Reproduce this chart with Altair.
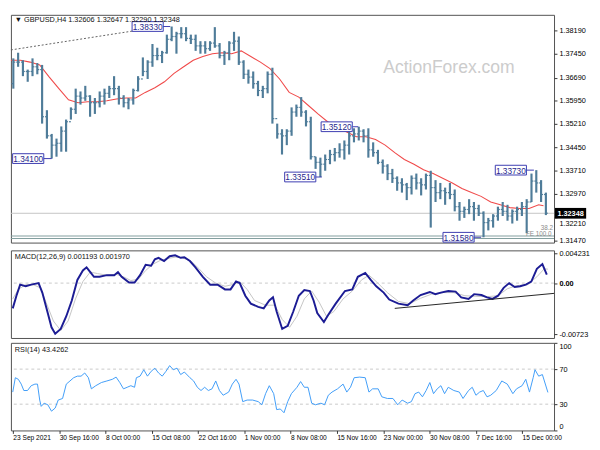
import altair as alt
import pandas as pd

# ---------------- data ----------------
# price bars: one bar per column of the reference, oldest first
HIGH = [1.3731, 1.3749, 1.3725, 1.3695, 1.3731, 1.3716, 1.3710, 1.3565, 1.3489, 1.3474,
        1.3513, 1.3535, 1.3574, 1.3634, 1.3625, 1.3643, 1.3613, 1.3604, 1.3625, 1.3634,
        1.3643, 1.3674, 1.3643, 1.3613, 1.3604, 1.3634, 1.3674, 1.3734, 1.3725, 1.3777,
        1.3765, 1.3755, 1.3807, 1.3833, 1.3816, 1.3831, 1.3831, 1.3807, 1.3807, 1.3786,
        1.3786, 1.3786, 1.3831, 1.3780, 1.3755, 1.3786, 1.3816, 1.3801, 1.3725, 1.3695,
        1.3689, 1.3659, 1.3643, 1.3689, 1.3701, 1.3522, 1.3504, 1.3504, 1.3574, 1.3583,
        1.3607, 1.3565, 1.3544, 1.3416, 1.3413, 1.3423, 1.3438, 1.3444, 1.3459, 1.3468,
        1.3498, 1.3507, 1.3512, 1.3504, 1.3507, 1.3462, 1.3438, 1.3407, 1.3392, 1.3377,
        1.3353, 1.3347, 1.3332, 1.3356, 1.3362, 1.3347, 1.3362, 1.3371, 1.3341, 1.3332,
        1.3317, 1.3332, 1.3311, 1.3271, 1.3256, 1.3280, 1.3271, 1.3262, 1.3241, 1.3220,
        1.3232, 1.3256, 1.3271, 1.3262, 1.3247, 1.3256, 1.3271, 1.3280, 1.3362, 1.3373,
        1.3341, 1.3301]
LOW = [1.3634, 1.3704, 1.3674, 1.3656, 1.3674, 1.3680, 1.3522, 1.3474, 1.3410, 1.3416,
       1.3432, 1.3432, 1.3535, 1.3553, 1.3583, 1.3595, 1.3544, 1.3553, 1.3574, 1.3583,
       1.3604, 1.3613, 1.3583, 1.3574, 1.3568, 1.3583, 1.3625, 1.3674, 1.3665, 1.3704,
       1.3725, 1.3716, 1.3746, 1.3786, 1.3746, 1.3795, 1.3786, 1.3777, 1.3755, 1.3746,
       1.3746, 1.3755, 1.3765, 1.3731, 1.3710, 1.3725, 1.3755, 1.3710, 1.3665, 1.3650,
       1.3634, 1.3610, 1.3604, 1.3619, 1.3522, 1.3474, 1.3423, 1.3453, 1.3483, 1.3544,
       1.3544, 1.3513, 1.3407, 1.3377, 1.3351, 1.3371, 1.3392, 1.3401, 1.3413, 1.3407,
       1.3423, 1.3462, 1.3468, 1.3462, 1.3413, 1.3416, 1.3392, 1.3362, 1.3341, 1.3332,
       1.3307, 1.3301, 1.3277, 1.3295, 1.3311, 1.3292, 1.3311, 1.3189, 1.3271, 1.3280,
       1.3262, 1.3280, 1.3241, 1.3211, 1.3220, 1.3232, 1.3211, 1.3226, 1.3158, 1.3180,
       1.3189, 1.3211, 1.3226, 1.3211, 1.3202, 1.3211, 1.3226, 1.3171, 1.3271, 1.3301,
       1.3271, 1.3229]
CLOSE = [1.3719, 1.3719, 1.3689, 1.3689, 1.3704, 1.3695, 1.3544, 1.3483, 1.3453, 1.3459,
         1.3498, 1.3528, 1.3568, 1.3610, 1.3604, 1.3610, 1.3589, 1.3589, 1.3610, 1.3619,
         1.3634, 1.3634, 1.3604, 1.3589, 1.3598, 1.3628, 1.3665, 1.3689, 1.3719, 1.3740,
         1.3740, 1.3749, 1.3792, 1.3801, 1.3810, 1.3810, 1.3795, 1.3792, 1.3771, 1.3771,
         1.3762, 1.3780, 1.3771, 1.3740, 1.3749, 1.3780, 1.3786, 1.3719, 1.3680, 1.3671,
         1.3650, 1.3628, 1.3634, 1.3680, 1.3538, 1.3489, 1.3483, 1.3498, 1.3559, 1.3574,
         1.3559, 1.3528, 1.3416, 1.3398, 1.3392, 1.3407, 1.3423, 1.3429, 1.3438, 1.3453,
         1.3483, 1.3489, 1.3498, 1.3483, 1.3438, 1.3429, 1.3398, 1.3386, 1.3362, 1.3347,
         1.3332, 1.3326, 1.3317, 1.3347, 1.3332, 1.3326, 1.3356, 1.3317, 1.3301, 1.3307,
         1.3301, 1.3295, 1.3256, 1.3241, 1.3247, 1.3256, 1.3250, 1.3235, 1.3205, 1.3211,
         1.3226, 1.3247, 1.3241, 1.3226, 1.3241, 1.3247, 1.3256, 1.3271, 1.3338, 1.3332,
         1.3295, 1.3235]
FIRST_OPEN = 1.3650

# red moving average (bar position, price)
MA_POINTS = [(0, 1.3725), (2, 1.3725), (4, 1.3719), (6, 1.3710), (8, 1.3671), (10, 1.3634),
             (12, 1.3598), (14, 1.3589), (16, 1.3592), (18, 1.3592), (20, 1.3595), (22, 1.3601),
             (24, 1.3604), (26, 1.3604), (28, 1.3622), (30, 1.3637), (32, 1.3656), (34, 1.3683),
             (36, 1.3704), (38, 1.3725), (40, 1.3737), (42, 1.3746), (44, 1.3749), (46, 1.3746),
             (48, 1.3755), (50, 1.3737), (52, 1.3719), (54, 1.3698), (56, 1.3665), (58, 1.3622),
             (60, 1.3607), (62, 1.3580), (64, 1.3553), (66, 1.3528), (68, 1.3510), (70, 1.3495),
             (72, 1.3480), (74, 1.3480), (76, 1.3471), (78, 1.3453), (80, 1.3429), (82, 1.3407),
             (84, 1.3392), (86, 1.3374), (88, 1.3362), (90, 1.3347), (92, 1.3332), (94, 1.3314),
             (96, 1.3301), (98, 1.3289), (100, 1.3271), (102, 1.3262), (104, 1.3253), (106, 1.3250),
             (108, 1.3250), (110, 1.3262), (111, 1.3259)]

# dotted trend line at the top left
TREND_POINTS = [(0, 1.3758), (25.6, 1.3819)]

# price labels: (centre position, price, text, connector start, connector end)
PRICE_LABELS = [(3.6, 1.3410, "1.34100", 6.8, 8.5),
                (28.5, 1.3833, "1.38330", 31.6, 33.2),
                (67.9, 1.3512, "1.35120", 71.2, 72.4),
                (60.3, 1.3351, "1.33510", 63.4, 64.8),
                (104.2, 1.3373, "1.33730", 107.4, 109.0),
                (93.3, 1.3158, "1.31580", 96.4, 98.0)]

FIB_LEVELS = [1.3162, 1.3154]
FIB_TEXT = [(112.7, 1.3167, "FE 100.0"), (113.0, 1.3188, "38.2")]
LAST_PRICE = 1.32348
PRICE_TICKS = [1.38190, 1.37450, 1.36690, 1.35950, 1.35210, 1.34450,
               1.33710, 1.32970, 1.32210, 1.31470]
PRICE_DOMAIN = [1.31409, 1.38704]

# MACD main line and signal line (bar position, value)
MACD_POINTS = [(0.38, -0.00357), (1.15, -0.00178), (1.92, -0.00022), (3.08, -0.00045), (4.23, -0.00022),
               (5.77, 0.0), (6.54, -0.00134), (7.69, -0.00424), (8.46, -0.00624), (9.23, -0.00714),
               (10.38, -0.00647), (11.54, -0.00468), (12.69, -0.00245), (13.85, 0.00045), (15.0, 0.00178),
               (15.77, 0.00223), (16.54, 0.00156), (17.31, 0.00089), (18.46, 0.00089), (20.0, 0.00112),
               (21.54, 0.00112), (22.31, 0.00156), (23.08, 0.00089), (24.62, 0.00009), (25.77, 0.00009),
               (26.92, 0.00112), (28.08, 0.00259), (29.23, 0.00245), (30.0, 0.00335), (30.77, 0.00357),
               (31.92, 0.00312), (33.08, 0.00379), (34.23, 0.00392), (35.38, 0.00357), (36.15, 0.00366),
               (37.31, 0.00312), (38.46, 0.00223), (40.0, 0.00089), (41.54, -0.00022), (43.08, -0.00022),
               (44.62, -0.00089), (45.77, -0.00089), (46.92, 0.00022), (47.69, 0.0), (48.85, -0.00178),
               (50.0, -0.0029), (51.54, -0.00335), (52.69, -0.00357), (53.85, -0.00245), (54.62, -0.00201),
               (55.38, -0.00401), (56.54, -0.00647), (57.69, -0.00602), (58.85, -0.00401), (60.0, -0.00178),
               (61.15, -0.00098), (62.31, -0.00112), (63.08, -0.00245), (63.85, -0.00424), (65.23, -0.00549),
               (66.15, -0.00446), (67.69, -0.0029), (69.62, -0.00112), (71.15, -0.00089), (72.31, 0.00089),
               (73.85, 0.00143), (75.0, 0.00045), (76.15, -0.00045), (77.69, -0.00134), (78.85, -0.00232),
               (80.77, -0.0029), (82.69, -0.00312), (83.85, -0.00245), (85.38, -0.00169), (87.31, -0.00125),
               (88.46, -0.00156), (89.62, -0.00134), (91.15, -0.00112), (92.69, -0.0012), (93.85, -0.00201),
               (95.38, -0.00223), (96.54, -0.00156), (98.08, -0.00169), (99.23, -0.00201), (100.38, -0.00223),
               (101.54, -0.00178), (102.69, -0.00067), (103.85, 0.0), (105.0, -0.00054), (106.15, -0.00045),
               (107.31, -0.00022), (108.46, 0.00022), (109.62, 0.00201), (110.77, 0.00268), (111.69, 0.001193)]
SIGNAL_POINTS = [(0.38, -0.00223), (1.54, -0.00089), (3.08, -0.00022), (4.62, -0.00022), (6.15, -0.00067),
                 (7.31, -0.00268), (8.85, -0.00535), (10.38, -0.00669), (11.92, -0.00535), (13.46, -0.00223),
                 (15.0, 0.00022), (16.54, 0.00156), (18.08, 0.00134), (20.0, 0.00112), (21.92, 0.00125),
                 (23.46, 0.00089), (25.0, 0.00036), (26.54, 0.00054), (28.08, 0.00178), (29.62, 0.00268),
                 (31.15, 0.00321), (32.69, 0.00348), (34.23, 0.00366), (35.77, 0.00357), (37.69, 0.00303),
                 (39.23, 0.00201), (40.77, 0.00089), (42.69, 0.0), (44.62, -0.00045), (46.15, -0.00022),
                 (47.69, 0.00022), (49.23, -0.00089), (50.77, -0.00245), (53.08, -0.00312), (55.0, -0.00312),
                 (56.54, -0.00513), (58.08, -0.00624), (59.62, -0.00468), (61.15, -0.00223), (62.69, -0.00112),
                 (64.23, -0.00268), (65.77, -0.00468), (67.31, -0.00401), (69.23, -0.00223), (71.15, -0.00112),
                 (73.08, 0.00045), (74.62, 0.00112), (76.15, 0.00022), (78.46, -0.00134), (80.77, -0.00259),
                 (83.08, -0.0029), (85.38, -0.00214), (87.69, -0.00156), (90.0, -0.00134), (92.31, -0.00134),
                 (94.62, -0.00178), (96.92, -0.00187), (99.23, -0.00192), (101.54, -0.00178), (103.46, -0.0008),
                 (105.38, -0.00036), (107.69, -0.00022), (109.62, 0.00089), (111.15, 0.00201), (111.92, 0.00197)]
MACD_TREND = [(80.0, -0.00357), (113.2, -0.00145)]
MACD_TICKS = [0.004231, 0.0, -0.00723]
MACD_TICK_TEXT = ["0.004231", "0.00", "-0.00723"]
MACD_DOMAIN = [-0.00775, 0.00462]

# RSI(14) (bar position, value)
RSI_POINTS = [(0.38, 43.8), (0.92, 60.2), (1.54, 58.4), (2.15, 52.9), (2.69, 45.6), (3.46, 45.6),
              (4.23, 51.1), (5.0, 52.9), (5.54, 52.9), (6.0, 34.7), (6.31, 27.5), (6.92, 31.1),
              (7.69, 29.3), (8.46, 22.0), (9.23, 25.6), (9.85, 34.7), (10.77, 36.5), (11.54, 52.9),
              (12.31, 56.5), (13.08, 60.2), (13.85, 62.0), (14.62, 62.0), (15.38, 65.6), (16.15, 60.2),
              (16.77, 47.5), (17.69, 51.1), (18.85, 54.7), (20.0, 56.5), (21.15, 58.4), (21.92, 60.9),
              (22.69, 54.7), (23.46, 47.5), (24.23, 49.3), (25.0, 51.1), (25.77, 49.3), (26.15, 60.2),
              (26.92, 62.0), (27.69, 69.3), (28.46, 62.0), (29.23, 67.5), (30.0, 71.1), (30.77, 65.6),
              (31.54, 62.0), (32.31, 67.5), (33.08, 74.0), (33.85, 69.3), (34.62, 71.1), (35.38, 63.8),
              (36.15, 66.7), (37.31, 60.2), (38.08, 56.5), (38.85, 49.3), (39.62, 45.6), (40.38, 49.3),
              (41.15, 45.6), (41.92, 47.5), (42.69, 56.5), (43.46, 45.6), (44.23, 40.2), (45.38, 43.8),
              (46.15, 52.9), (46.92, 58.4), (47.54, 52.9), (48.31, 32.9), (49.23, 34.7), (50.38, 34.7),
              (51.54, 32.9), (52.31, 29.3), (53.08, 42.0), (53.85, 51.1), (54.77, 42.0), (55.38, 23.8),
              (56.15, 24.5), (56.92, 20.2), (57.69, 32.9), (58.46, 42.0), (59.62, 49.3), (60.38, 55.8),
              (61.15, 49.3), (61.92, 49.3), (62.69, 31.1), (63.46, 29.3), (64.62, 31.1), (65.38, 29.3),
              (66.15, 40.2), (66.92, 43.8), (68.08, 47.5), (69.23, 52.9), (70.0, 43.8), (70.77, 49.3),
              (71.54, 60.2), (72.69, 60.9), (73.85, 60.2), (74.62, 43.8), (75.38, 47.5), (76.54, 47.5),
              (77.31, 38.4), (78.46, 36.5), (79.62, 36.5), (80.62, 29.3), (81.54, 34.7), (82.69, 31.1),
              (83.46, 32.9), (84.23, 42.0), (85.0, 43.8), (85.77, 38.4), (86.54, 45.6), (87.31, 54.7),
              (88.08, 42.0), (88.85, 47.5), (89.62, 51.1), (90.38, 42.0), (91.15, 49.3), (92.31, 45.6),
              (93.46, 43.8), (94.23, 36.5), (95.38, 45.6), (96.15, 49.3), (96.92, 40.2), (97.69, 43.8),
              (98.46, 45.6), (99.23, 38.4), (100.0, 40.2), (101.15, 45.6), (102.31, 56.5), (103.46, 52.9),
              (104.62, 42.0), (105.38, 47.5), (106.54, 51.1), (107.31, 58.4), (108.08, 43.8), (108.85, 60.2),
              (109.23, 69.3), (110.0, 62.0), (110.77, 63.8), (111.92, 43.4262)]
RSI_LEVELS = [70, 30]
RSI_TICKS = [0, 30, 70, 100]

# time axis
TICK_POS = [0.4, 10.05, 19.7, 29.35, 39.0, 48.65, 58.3, 67.95, 77.6, 87.25, 96.9, 106.55]
TICK_LABELS = ["23 Sep 2021", "30 Sep 16:00", "8 Oct 00:00", "15 Oct 08:00", "22 Oct 16:00",
               "1 Nov 00:00", "8 Nov 08:00", "15 Nov 16:00", "23 Nov 00:00", "30 Nov 08:00",
               "7 Dec 16:00", "15 Dec 00:00"]
X_DOMAIN = [0, 113.2]

HEADER = "\u25bc GBPUSD,H4  1.32606 1.32647 1.32290 1.32348"
MACD_TITLE = "MACD(12,26,9) 0.001193 0.001970"
RSI_TITLE = "RSI(14) 43.4262"

# ---------------- styling ----------------
FONT = "Liberation Sans"
BAR = "#4f7c99"
MA_COL = "#f04a4a"
BOX_COL = "#3a3ab0"
W = 558
H_PRICE, H_MACD, H_RSI = 234, 90, 90
LFS = 7.5  # axis label font size

xs = alt.Scale(domain=X_DOMAIN, nice=False, zero=False)

# ---------------- price panel ----------------
bars = pd.DataFrame({"t": [i + 0.5 for i in range(len(CLOSE))],
                     "high": HIGH, "low": LOW, "close": CLOSE})
bars["open"] = [FIRST_OPEN] + CLOSE[:-1]
bars["t_l"] = bars["t"] - 0.4
bars["t_r"] = bars["t"] + 0.4

ys = alt.Scale(domain=PRICE_DOMAIN, nice=False, zero=False)
# the label just under the price tag is pushed below the tag (it peeks out in the reference)
yax = alt.Axis(orient="right", values=PRICE_TICKS, format=".5f", title=None, labelFontSize=LFS,
               tickSize=3, labelPadding=2, domain=False, grid=False, labelOverlap=False,
               labelBound=False, labelFlush=False,
               labelOffset={"expr": "abs(datum.value - %r) < 0.00001 ? 6 : 0" % PRICE_TICKS[8]})


def Yp(field):
    return alt.Y(field, scale=ys, axis=yax)


fib = alt.Chart(pd.DataFrame({"p": FIB_LEVELS})).mark_rule(color="#7f9c9c", strokeWidth=1).encode(
    y=Yp("p:Q"))
lastline = alt.Chart(pd.DataFrame({"p": [LAST_PRICE]})).mark_rule(color="#c4c4c4", strokeWidth=1).encode(
    y=Yp("p:Q"))
trend = alt.Chart(pd.DataFrame(TREND_POINTS, columns=["t", "p"])).mark_line(
    color="#606060", strokeDash=[2, 2], strokeWidth=1).encode(
    x=alt.X("t:Q", scale=xs, axis=None), y=Yp("p:Q"))
ma = alt.Chart(pd.DataFrame(MA_POINTS, columns=["t", "p"])).mark_line(
    color=MA_COL, strokeWidth=1.1).encode(
    x=alt.X("t:Q", scale=xs, axis=None), y=Yp("p:Q"))
hl = alt.Chart(bars).mark_rule(color=BAR, strokeWidth=2.2).encode(
    x=alt.X("t:Q", scale=xs, axis=None), y=Yp("low:Q"), y2="high:Q")
op = alt.Chart(bars).mark_rule(color=BAR, strokeWidth=1.2).encode(
    x=alt.X("t_l:Q", scale=xs, axis=None), x2="t:Q", y=Yp("open:Q"))
cl = alt.Chart(bars).mark_rule(color=BAR, strokeWidth=1.2).encode(
    x=alt.X("t:Q", scale=xs, axis=None), x2="t_r:Q", y=Yp("close:Q"))

lab = pd.DataFrame(PRICE_LABELS, columns=["t", "p", "txt", "c0", "c1"])
conn = alt.Chart(lab).mark_rule(color=BOX_COL, strokeWidth=1).encode(
    x=alt.X("c0:Q", scale=xs, axis=None), x2="c1:Q", y=Yp("p:Q"))
boxes = alt.Chart(lab).mark_point(shape="M-16,-5H16V5H-16Z", size=4, filled=True, fill="white",
                                  fillOpacity=1, opacity=1, stroke=BOX_COL, strokeWidth=1).encode(
    x=alt.X("t:Q", scale=xs, axis=None), y=Yp("p:Q"))
boxtxt = alt.Chart(lab).mark_text(font=FONT, fontSize=8.5, color="#26268c", baseline="middle",
                                  align="center", dy=0.5).encode(
    x=alt.X("t:Q", scale=xs, axis=None), y=Yp("p:Q"), text="txt:N")

fe = alt.Chart(pd.DataFrame(FIB_TEXT, columns=["t", "p", "txt"])).mark_text(
    font=FONT, fontSize=6.5, color="#8a8a8a", align="right", baseline="middle").encode(
    x=alt.X("t:Q", scale=xs, axis=None), y=Yp("p:Q"), text="txt:N")

tagdf = pd.DataFrame({"p": [LAST_PRICE], "txt": ["%.5f" % LAST_PRICE]})
tagbox = alt.Chart(tagdf).mark_point(shape="M-16,-5.5H16V5.5H-16Z", size=4, filled=True, fill="black",
                                     fillOpacity=1, opacity=1, strokeWidth=0).encode(
    x=alt.value(W + 17), y=Yp("p:Q"))
tagtxt = alt.Chart(tagdf).mark_text(font=FONT, fontSize=7.5, color="white", fontWeight="bold",
                                    align="center", baseline="middle", dy=0.5).encode(
    x=alt.value(W + 17), y=Yp("p:Q"), text="txt:N")

header = alt.Chart(pd.DataFrame({"txt": [HEADER]})).mark_text(
    font=FONT, fontSize=7.5, color="#111111", align="left", baseline="middle").encode(
    x=alt.value(4), y=alt.value(5), text="txt:N")
water = alt.Chart(pd.DataFrame({"txt": ["ActionForex.com"]})).mark_text(
    font=FONT, fontSize=18, color="#cccccc", align="center", baseline="middle").encode(
    x=alt.value(450), y=alt.value(55), text="txt:N")

price = alt.layer(fib, lastline, water, trend, ma, hl, op, cl, conn, boxes, boxtxt, fe,
                  tagbox, tagtxt, header).properties(width=W, height=H_PRICE)

# ---------------- MACD panel ----------------
ms = alt.Scale(domain=MACD_DOMAIN, nice=False, zero=False)
macd_label_expr = " : ".join(
    ["datum.value == %r ? '%s'" % (v, s) for v, s in zip(MACD_TICKS, MACD_TICK_TEXT)]) + " : ''"
max_ = alt.Axis(orient="right", values=MACD_TICKS, labelExpr=macd_label_expr, title=None,
                labelFontSize=LFS, tickSize=3, labelPadding=2, domain=False, grid=False,
                labelFlush=True, labelOverlap=False,
                labelFontWeight={"expr": "datum.value == 0 ? 'bold' : 'normal'"})


def Ym(field):
    return alt.Y(field, scale=ms, axis=max_)


zero = alt.Chart(pd.DataFrame({"v": [0.0]})).mark_rule(color="#c8c8c8", strokeDash=[3, 3]).encode(
    y=Ym("v:Q"))
sig = alt.Chart(pd.DataFrame(SIGNAL_POINTS, columns=["t", "v"])).mark_line(
    color="#c4c4c4", strokeWidth=1).encode(x=alt.X("t:Q", scale=xs, axis=None), y=Ym("v:Q"))
main = alt.Chart(pd.DataFrame(MACD_POINTS, columns=["t", "v"])).mark_line(
    color="#1c1c94", strokeWidth=2).encode(x=alt.X("t:Q", scale=xs, axis=None), y=Ym("v:Q"))
mtrend = alt.Chart(pd.DataFrame(MACD_TREND, columns=["t", "v"])).mark_line(
    color="#222222", strokeWidth=1).encode(x=alt.X("t:Q", scale=xs, axis=None), y=Ym("v:Q"))
mtitle = alt.Chart(pd.DataFrame({"txt": [MACD_TITLE]})).mark_text(
    font=FONT, fontSize=7.5, color="#111111", align="left", baseline="middle").encode(
    x=alt.value(4), y=alt.value(7), text="txt:N")
macd = alt.layer(zero, sig, main, mtrend, mtitle).properties(width=W, height=H_MACD)

# ---------------- RSI panel ----------------
rs = alt.Scale(domain=[0, 100], nice=False, zero=False)
rax = alt.Axis(orient="right", values=RSI_TICKS, title=None, labelFontSize=LFS, tickSize=3,
               labelPadding=2, domain=False, grid=False, labelFlush=True, labelOverlap=False)


def Yr(field):
    return alt.Y(field, scale=rs, axis=rax)


cond = ""
for pos, txt in zip(TICK_POS, TICK_LABELS):
    cond += "abs(datum.value - %r) < 1 ? '%s' : " % (pos, txt)
cond += "''"
xax = alt.Axis(values=TICK_POS, labelExpr=cond, title=None, labelFontSize=6.8, labelAlign="left",
               tickSize=3, labelPadding=1, domain=False, grid=False, labelOverlap=False,
               labelFlush=False, labelBound=False)


def Xr(field):
    return alt.X(field, scale=xs, axis=xax)


lev = alt.Chart(pd.DataFrame({"v": RSI_LEVELS})).mark_rule(color="#c8c8c8", strokeDash=[3, 3]).encode(
    y=Yr("v:Q"))
rline = alt.Chart(pd.DataFrame(RSI_POINTS, columns=["t", "v"])).mark_line(
    color="#3f9cf8", strokeWidth=1).encode(x=Xr("t:Q"), y=Yr("v:Q"))
rtitle = alt.Chart(pd.DataFrame({"txt": [RSI_TITLE]})).mark_text(
    font=FONT, fontSize=7.5, color="#111111", align="left", baseline="middle").encode(
    x=alt.value(4), y=alt.value(7), text="txt:N")
rsi = alt.layer(lev, rline, rtitle).properties(width=W, height=H_RSI)

chart = alt.vconcat(price, macd, rsi, spacing=3).properties(
    padding={"left": 0, "top": 0, "right": 2, "bottom": 0},
    background="white",
).configure_view(stroke="#505050", strokeWidth=1).configure_axis(
    labelFont=FONT, labelColor="#000000", tickColor="#333333", grid=False
).configure_text(font=FONT)

chart.save("out.html", embed_options={"renderer": "svg", "actions": False})
